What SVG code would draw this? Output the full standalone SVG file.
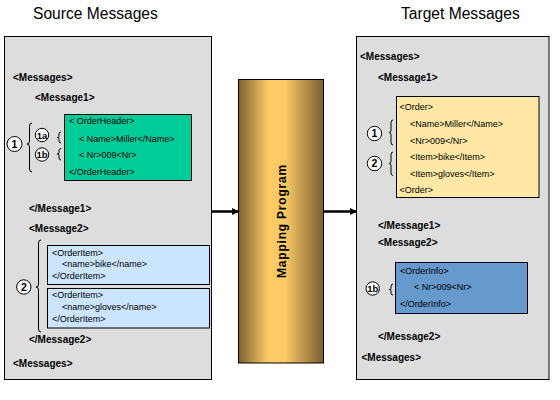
<svg xmlns="http://www.w3.org/2000/svg" width="560" height="400" viewBox="0 0 560 400">
<defs>
<linearGradient id="gold" x1="0" y1="0" x2="1" y2="0">
<stop offset="0" stop-color="#7c6031"/>
<stop offset="0.35" stop-color="#fccb68"/>
<stop offset="0.55" stop-color="#fbc966"/>
<stop offset="1" stop-color="#7a5d2f"/>
</linearGradient>
<marker id="ah" markerUnits="userSpaceOnUse" markerWidth="7" markerHeight="7" refX="6" refY="3.5" orient="auto">
<path d="M0,0 L7,3.5 L0,7 Z" fill="#000"/>
</marker>
</defs>
<style>
.title{font-family:"Liberation Sans",Arial,sans-serif;font-size:15.6px;fill:#000}
.b{font-family:"Liberation Sans",Arial,sans-serif;font-size:10px;font-weight:bold;fill:#000}
.t{font-family:"Liberation Sans",Arial,sans-serif;font-size:9px;fill:#000}
.panel{fill:#dddddd;stroke:#000;stroke-width:1}
.box{stroke:#000;stroke-width:1}
.num{fill:#fff;stroke:#000;stroke-width:1}
.nl{font-family:"Liberation Sans",Arial,sans-serif;font-size:10.5px;font-weight:bold;fill:#000;text-anchor:middle}
.brace{fill:none;stroke:#000;stroke-width:1}
.conn{stroke:#000;stroke-width:2.5;fill:none}
</style>
<rect width="560" height="400" fill="#fff"/>
<text class="title" x="33" y="18.5">Source Messages</text>
<text class="title" x="401" y="18.5">Target Messages</text>

<g id="source">
<rect class="panel" x="4.5" y="36.5" width="207" height="343"/>
<text class="b" x="13" y="81">&lt;Messages&gt;</text>
<text class="b" x="35" y="101">&lt;Message1&gt;</text>
<g id="orderheader">
<rect class="box" x="64.5" y="114.5" width="127" height="66" fill="#00cc99"/>
<text class="t" x="69" y="124">&lt; OrderHeader&gt;</text>
<text class="t" x="79" y="141.5">&lt; Name&gt;Miller&lt;/Name&gt;</text>
<text class="t" x="79" y="158">&lt; Nr&gt;009&lt;Nr&gt;</text>
<text class="t" x="69" y="175">&lt;/OrderHeader&gt;</text>
</g>
<g id="s-label1">
<circle class="num" cx="14.5" cy="144" r="7.5"/>
<text class="nl" x="14.5" y="147.8">1</text>
<path class="brace" d="M32,123 Q29.5,123 29.5,126 L29.5,141 Q29.5,144 27,144 Q29.5,144 29.5,147 L29.5,169 Q29.5,172 32,172"/>
<circle class="num" cx="42" cy="135" r="6.7"/>
<text class="nl" x="42" y="138.5" style="font-size:9.5px">1a</text>
<circle class="num" cx="42" cy="154.5" r="6.7"/>
<text class="nl" x="42" y="158" style="font-size:9.5px">1b</text>
<path class="brace" d="M61,132 Q59,132 59,134 L59,136.5 Q59,137.5 57,137.5 Q59,137.5 59,138.5 L59,141 Q59,143 61,143"/>
<path class="brace" d="M61,148.5 Q59,148.5 59,150.5 L59,153 Q59,154 57,154 Q59,154 59,155 L59,158 Q59,160 61,160"/>
</g>
<text class="b" x="29" y="212">&lt;/Message1&gt;</text>
<text class="b" x="29" y="231.5">&lt;Message2&gt;</text>
<g id="orderitem1">
<rect class="box" x="47.5" y="245.5" width="162" height="39" fill="#cce5ff"/>
<text class="t" x="52" y="255.5">&lt;OrderItem&gt;</text>
<text class="t" x="62" y="266.5">&lt;name&gt;bike&lt;/name&gt;</text>
<text class="t" x="52" y="279">&lt;/OrderItem&gt;</text>
</g>
<g id="orderitem2">
<rect class="box" x="47.5" y="288.5" width="162" height="39.5" fill="#cce5ff"/>
<text class="t" x="52" y="297.7">&lt;OrderItem&gt;</text>
<text class="t" x="62" y="309.5">&lt;name&gt;gloves&lt;/name&gt;</text>
<text class="t" x="52" y="321.7">&lt;/OrderItem&gt;</text>
</g>
<g id="s-label2">
<circle class="num" cx="23.8" cy="287" r="7.2"/>
<text class="nl" x="23.8" y="290.8">2</text>
<path class="brace" d="M41,240 Q38.5,240 38.5,243 L38.5,284 Q38.5,287 36,287 Q38.5,287 38.5,290 L38.5,329 Q38.5,332 41,332"/>
</g>
<text class="b" x="29" y="342.5">&lt;/Message2&gt;</text>
<text class="b" x="13" y="366.5">&lt;Messages&gt;</text>
</g>

<g id="mapping">
<rect x="238.5" y="79.5" width="85" height="283.5" fill="url(#gold)" stroke="#000" stroke-width="1"/>
<text transform="translate(286,221) rotate(-90)" text-anchor="middle" style="font-family:'Liberation Sans',Arial,sans-serif;font-size:12px;font-weight:bold;letter-spacing:0.8px">Mapping Program</text>
</g>

<g id="target">
<rect class="panel" x="356.5" y="36.5" width="192.5" height="343"/>
<text class="b" x="360" y="60">&lt;Messages&gt;</text>
<text class="b" x="378" y="80.5">&lt;Message1&gt;</text>
<g id="order">
<rect class="box" x="396.5" y="96.5" width="142.5" height="101" fill="#ffe8a6"/>
<text class="t" x="399.5" y="109.5">&lt;Order&gt;</text>
<text class="t" x="410" y="127">&lt;Name&gt;Miller&lt;/Name&gt;</text>
<text class="t" x="410" y="143.5">&lt;Nr&gt;009&lt;/Nr&gt;</text>
<text class="t" x="410" y="160">&lt;Item&gt;bike&lt;/Item&gt;</text>
<text class="t" x="410" y="176.5">&lt;Item&gt;gloves&lt;/Item&gt;</text>
<text class="t" x="399.5" y="193">&lt;Order&gt;</text>
</g>
<g id="t-label1">
<circle class="num" cx="374.5" cy="133.5" r="7.2"/>
<text class="nl" x="374.5" y="137.3">1</text>
<path class="brace" d="M393,120 Q391,120 391,122.5 L391,130.5 Q391,132.5 389,132.5 Q391,132.5 391,134.5 L391,142.5 Q391,145 393,145"/>
</g>
<g id="t-label2">
<circle class="num" cx="374.5" cy="163.5" r="7.2"/>
<text class="nl" x="374.5" y="167.3">2</text>
<path class="brace" d="M393,152 Q391,152 391,154.5 L391,161.5 Q391,163.5 389,163.5 Q391,163.5 391,165.5 L391,173 Q391,175.5 393,175.5"/>
</g>
<text class="b" x="378" y="228.5">&lt;/Message1&gt;</text>
<text class="b" x="378" y="246">&lt;Message2&gt;</text>
<g id="orderinfo">
<rect class="box" x="395.5" y="262.5" width="132" height="51" fill="#6699cc"/>
<text class="t" x="400" y="273.5">&lt;OrderInfo&gt;</text>
<text class="t" x="414" y="290">&lt; Nr&gt;009&lt;Nr&gt;</text>
<text class="t" x="400" y="306.5">&lt;/OrderInfo&gt;</text>
</g>
<g id="t-label1b">
<circle class="num" cx="372.7" cy="288.5" r="6.7"/>
<text class="nl" x="372.7" y="292" style="font-size:9.5px">1b</text>
<path class="brace" d="M393,284 Q391,284 391,286 L391,288.5 Q391,289.5 389,289.5 Q391,289.5 391,290.5 L391,293 Q391,295 393,295"/>
</g>
<text class="b" x="378" y="339.5">&lt;/Message2&gt;</text>
<text class="b" x="361.5" y="360.5">&lt;Messages&gt;</text>
</g>

<g id="connectors">
<line class="conn" x1="212" y1="211.5" x2="238" y2="211.5" marker-end="url(#ah)"/>
<line class="conn" x1="324" y1="211.5" x2="356" y2="211.5" marker-end="url(#ah)"/>
</g>
</svg>
